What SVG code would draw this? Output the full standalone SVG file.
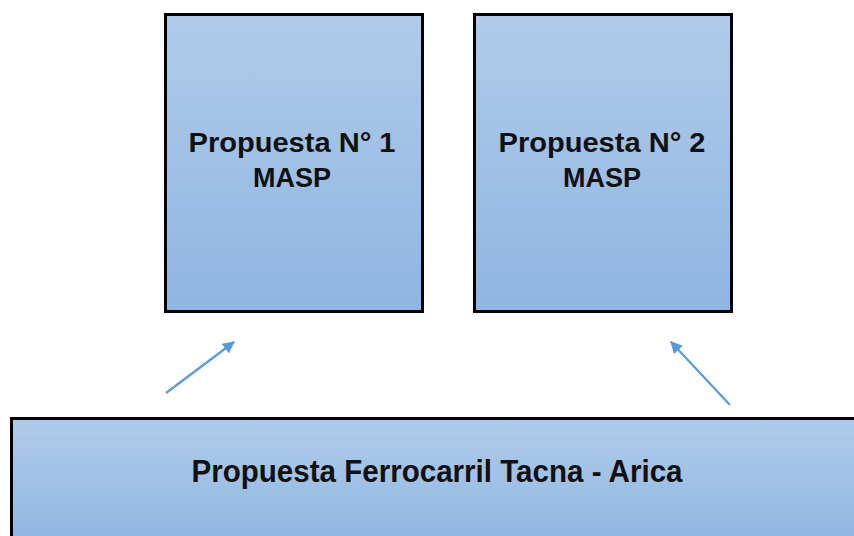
<svg xmlns="http://www.w3.org/2000/svg" width="854" height="536" viewBox="0 0 854 536">
<defs>
<linearGradient id="g" x1="0" y1="0" x2="0" y2="1">
<stop offset="0" stop-color="#b1cbe9"/>
<stop offset="1" stop-color="#8fb5e2"/>
</linearGradient>
<marker id="ah" viewBox="0 0 10 10" refX="9" refY="5" markerWidth="5.5" markerHeight="5.5" orient="auto" markerUnits="strokeWidth">
<path d="M0,0 L10,5 L0,10 Z" fill="#5b9bd5"/>
</marker>
<style>
.box{fill:url(#g);stroke:#000;stroke-width:3}
.t{font-family:"Liberation Sans",Arial,sans-serif;font-weight:bold;font-size:27px;fill:#111;text-anchor:middle}
.b{font-family:"Liberation Sans",Arial,sans-serif;font-weight:bold;font-size:32px;fill:#111;text-anchor:middle}
.c{stroke:#5b9bd5;stroke-width:2.2;fill:none;marker-end:url(#ah)}
</style>
</defs>
<rect width="854" height="536" fill="#fff"/>
<g id="n1">
<rect class="box" x="165.5" y="14.5" width="257" height="297"/>
<text class="t" x="292" y="152" textLength="207" lengthAdjust="spacingAndGlyphs">Propuesta N° 1</text>
<text class="t" x="292" y="187" textLength="78" lengthAdjust="spacingAndGlyphs">MASP</text>
</g>
<g id="n2">
<rect class="box" x="474.5" y="14.5" width="257" height="297"/>
<text class="t" x="602" y="152" textLength="207" lengthAdjust="spacingAndGlyphs">Propuesta N° 2</text>
<text class="t" x="602" y="187" textLength="78" lengthAdjust="spacingAndGlyphs">MASP</text>
</g>
<g id="n3">
<rect class="box" x="11.5" y="418.5" width="850" height="130"/>
<text class="b" x="437" y="482" textLength="491" lengthAdjust="spacingAndGlyphs">Propuesta Ferrocarril Tacna - Arica</text>
</g>
<g id="connectors">
<line class="c" x1="166" y1="393" x2="234" y2="342"/>
<line class="c" x1="730" y1="405" x2="671" y2="342"/>
</g>
</svg>
